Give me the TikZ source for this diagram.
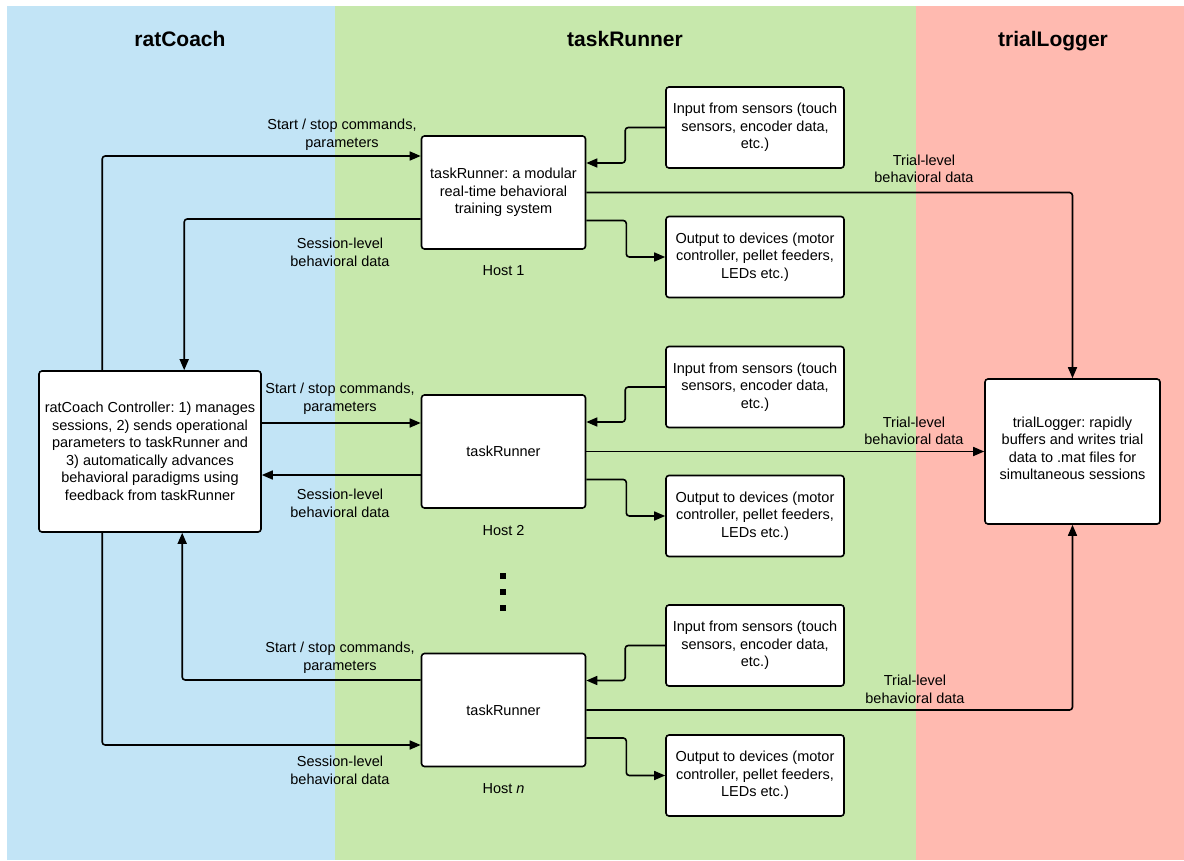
\documentclass[tikz,border=0pt]{standalone}
\usepackage{fontspec}
\setmainfont{Liberation Sans}
\usepackage{tikz}
\usetikzlibrary{arrows.meta,positioning}

\definecolor{coachblue}{RGB}{194,228,246}
\definecolor{runnergreen}{RGB}{199,232,172}
\definecolor{loggerred}{RGB}{255,186,176}

\frenchspacing

\begin{document}
\begin{tikzpicture}[
    x=1pt, y=-1pt,
    font=\fontsize{14.5}{17.5}\selectfont,
    block/.style={draw, line width=1.6pt, rounded corners=3pt, fill=white,
                  align=center, inner sep=0pt},
    runner/.style={block, minimum width=164pt, minimum height=113pt},
    io/.style={block, minimum width=178pt, minimum height=81pt},
    lbl/.style={align=center, inner sep=0pt},
    title/.style={font=\fontsize{21}{25}\selectfont\bfseries, anchor=base},
    dot/.style={fill=black, minimum size=6pt, inner sep=0pt},
    line/.style={-{Triangle[length=11pt,width=9pt]}, line width=1.6pt,
                 rounded corners=3pt}
]
% panels
\fill[white] (0,0) rectangle (1184,860);
\useasboundingbox (0,0) rectangle (1184,860);
\fill[coachblue]   (7,6)   rectangle (335,860);
\fill[runnergreen] (335,6) rectangle (916,860);
\fill[loggerred]   (916,6) rectangle (1184,860);

\node[title] (coachtitle)  at (180,46.5)  {ratCoach};
\node[title] (runnertitle) at (625,46.5)  {taskRunner};
\node[title] (loggertitle) at (1053,46.5) {trialLogger};

% boxes
\node[block, minimum width=222pt, minimum height=161pt] (ctrl) at (150,451.5)
    {ratCoach Controller: 1) manages\\sessions, 2) sends operational\\parameters to taskRunner and\\3) automatically advances\\behavioral paradigms using\\feedback from taskRunner};
\node[runner] (tr1) at (503.5,192.5) {taskRunner: a modular\\real-time behavioral\\training system};
\node[runner] (tr2) at (503.5,451.5) {taskRunner};
\node[runner] (trn) at (503.5,710)   {taskRunner};
\node[io] (in1)  at (755,127.5) {Input from sensors (touch\\sensors, encoder data,\\etc.)};
\node[io] (out1) at (755,257)   {Output to devices (motor\\controller, pellet feeders,\\LEDs etc.)};
\node[io] (in2)  at (755,387)   {Input from sensors (touch\\sensors, encoder data,\\etc.)};
\node[io] (out2) at (755,516)   {Output to devices (motor\\controller, pellet feeders,\\LEDs etc.)};
\node[io] (inn)  at (755,645.5) {Input from sensors (touch\\sensors, encoder data,\\etc.)};
\node[io] (outn) at (755,775.5) {Output to devices (motor\\controller, pellet feeders,\\LEDs etc.)};
\node[block, minimum width=175pt, minimum height=145pt] (logger) at (1072.5,451.5)
    {trialLogger: rapidly\\buffers and writes trial\\data to .mat files for\\simultaneous sessions\\[-10.5pt]};

\node[lbl, below=16pt of tr1] (host1) {Host 1};
\node[lbl, below=16pt of tr2] (host2) {Host 2};
\node[lbl, below=16pt of trn] (hostn) {Host \textit{n}};

\node[dot] (dot1) at (503,576) {};
\node[dot] (dot2) at (503,592) {};
\node[dot] (dot3) at (503,608) {};

% edge labels
\node[lbl] (cmd1)   at (342,134.5) {Start / stop commands,\\parameters};
\node[lbl] (ses1)   at (340,252.5) {Session-level\\behavioral data};
\node[lbl] (trial1) at (924,169)   {Trial-level\\behavioral data};
\node[lbl] (cmd2)   at (340,398.5) {Start / stop commands,\\parameters};
\node[lbl] (ses2)   at (340,503.5) {Session-level\\behavioral data};
\node[lbl] (trial2) at (914,431)   {Trial-level\\behavioral data};
\node[lbl] (cmdn)   at (340,657.5) {Start / stop commands,\\parameters};
\node[lbl] (sesn)   at (340,770.5) {Session-level\\behavioral data};
\node[lbl] (trialn) at (915,689.5) {Trial-level\\behavioral data};

% controller <-> hosts
\draw[line] ([xshift=64pt]ctrl.north west) |- ([yshift=36.5pt]tr1.west);
\draw[line] ([yshift=-26.5pt]tr1.west) -| ([xshift=146pt]ctrl.north west);
\draw[line] ([yshift=28.5pt]ctrl.east) -- ([yshift=28.5pt]tr2.west);
\draw[line] ([yshift=-23.5pt]tr2.west) -- ([yshift=-23.5pt]ctrl.east);
\draw[line] ([yshift=30pt]trn.west) -| ([xshift=144pt]ctrl.south west);
\draw[line] ([xshift=64pt]ctrl.south west) |- ([yshift=-35pt]trn.west);

% sensors and devices
\draw[line] (in1.west) -- ++(-40,0) |- ([yshift=29.5pt]tr1.east);
\draw[line] ([yshift=-28pt]tr1.east) -- ++(40,0) |- (out1.west);
\draw[line] (in2.west) -- ++(-40,0) |- ([yshift=29.5pt]tr2.east);
\draw[line] ([yshift=-28pt]tr2.east) -- ++(40,0) |- (out2.west);
\draw[line] (inn.west) -- ++(-40,0) |- ([yshift=29.5pt]trn.east);
\draw[line] ([yshift=-28pt]trn.east) -- ++(40,0) |- (outn.west);

% hosts -> logger
\draw[line] (tr1.east) -| (logger.north);
\draw[line] (tr2.east) -- (logger.west);
\draw[line] (trn.east) -| (logger.south);
\end{tikzpicture}
\end{document}
